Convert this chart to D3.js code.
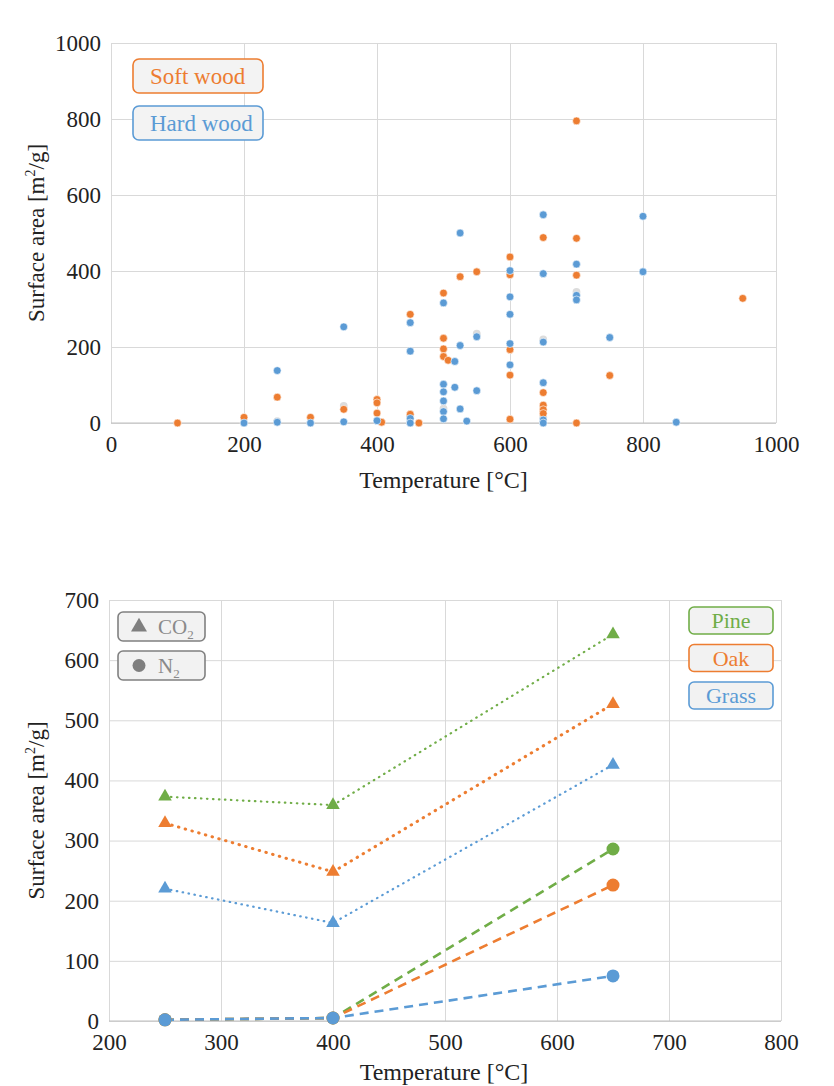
<!DOCTYPE html>
<html>
<head>
<meta charset="utf-8">
<script src="https://cdn.jsdelivr.net/npm/d3@7"></script>
<style>
  html, body { margin: 0; padding: 0; background: #fff; }
  svg { display: block; }
  text { font-family: "Liberation Serif", "Times New Roman", serif; }
</style>
</head>
<body>
<svg id="chart" width="834" height="1086"></svg>
<script>
// ---------- Top chart data ----------
const softwoodTemp = [100,200,250,300,350,400,400,400,407,450,450,463,500,500,500,500,507,525,550,600,600,600,600,600,650,650,650,650,650,700,700,700,700,750,950];
const softwoodArea = [0,15,68,15,36,62,53,26,2,286,23,0,342,223,195,175,165,385,398,437,390,193,126,10,488,80,47,35,25,795,486,389,0,125,328];
const hardwoodTemp = [200,250,250,300,350,350,400,450,450,450,450,500,500,500,500,500,500,517,517,525,525,525,535,550,550,600,600,600,600,600,650,650,650,650,650,650,700,700,700,750,800,800,850];
const hardwoodArea = [0,138,2,0,253,3,6,264,189,12,0,316,102,82,58,30,11,162,94,500,204,37,5,227,85,401,332,286,209,153,548,393,213,106,8,0,418,336,324,225,544,398,2];
const faintTemp = [250,350,450,500,550,600,650,650,700];
const faintArea = [5,45,18,38,235,395,220,15,345];
const topXTicks = [0,200,400,600,800,1000];
const topYTicks = [0,200,400,600,800,1000];
const topLegend = ["Soft wood","Hard wood"];

// ---------- Bottom chart data ----------
const tempsB = [250,400,650];
const species = ["Pine","Oak","Grass"];
const co2Pine = [373,359,643];
const co2Oak = [329,248,527];
const co2Grass = [220,163,426];
const n2Pine = [2,5,286];
const n2Oak = [2,5,226];
const n2Grass = [2,5,75];
const botXTicks = [200,300,400,500,600,700,800];
const botYTicks = [0,100,200,300,400,500,600,700];

const GREEN = "#70AD47", ORANGE = "#ED7D31", BLUE = "#5B9BD5", GRID = "#d9d9d9";
const SERIF = '"Liberation Serif", "Times New Roman", serif';
const svg = d3.select("#chart");

function gridAxes(g, x, y, xt, yt, W, H) {
  g.append("g").attr("transform", `translate(0,${H})`)
    .call(d3.axisBottom(x).tickValues(xt).tickSize(-H).tickFormat(""))
    .call(a => a.select(".domain").remove())
    .call(a => a.selectAll("line").attr("stroke", GRID).attr("stroke-width", 1));
  g.append("g")
    .call(d3.axisLeft(y).tickValues(yt).tickSize(-W).tickFormat(""))
    .call(a => a.select(".domain").remove())
    .call(a => a.selectAll("line").attr("stroke", GRID).attr("stroke-width", 1));
  g.append("line").attr("x1", 0).attr("x2", W).attr("y1", H).attr("y2", H)
    .attr("stroke", "#bfbfbf").attr("stroke-width", 1.2);
  // tick labels
  g.append("g").attr("transform", `translate(0,${H})`)
    .call(d3.axisBottom(x).tickValues(xt).tickSize(0).tickPadding(0).tickFormat(d3.format("d")))
    .attr("font-family", SERIF).attr("font-size", 23)
    .call(a => a.select(".domain").remove())
    .call(a => a.selectAll("text").attr("fill", "#222").attr("dy", null).attr("y", 29));
  g.append("g")
    .call(d3.axisLeft(y).tickValues(yt).tickSize(0).tickPadding(10).tickFormat(d3.format("d")))
    .attr("font-family", SERIF).attr("font-size", 23)
    .call(a => a.select(".domain").remove())
    .call(a => a.selectAll("text").attr("fill", "#222"));
}

function yTitle(g, H, dx) {
  const t = g.append("text").attr("transform", `translate(${dx},${H/2}) rotate(-90)`)
    .attr("text-anchor", "middle").attr("font-size", 23).attr("fill", "#222");
  t.append("tspan").text("Surface  area  [m");
  t.append("tspan").attr("font-size", 14).attr("dy", -9).text("2");
  t.append("tspan").attr("dy", 9).text("/g]");
}

// ================= TOP CHART =================
{
  const L = 111, T = 43, W = 665, H = 380;
  const g = svg.append("g").attr("transform", `translate(${L},${T})`);
  const x = d3.scaleLinear().domain([0,1000]).range([0,W]);
  const y = d3.scaleLinear().domain([0,1000]).range([H,0]);
  gridAxes(g, x, y, topXTicks, topYTicks, W, H);

  const pts = (tA, sA) => tA.map((t,i) => ({t, s: sA[i]}));
  g.append("g").selectAll("circle").data(pts(faintTemp, faintArea)).join("circle")
    .attr("cx", d => x(d.t)).attr("cy", d => y(d.s)).attr("r", 3.9).attr("fill", "#dcdcdc");
  g.append("g").selectAll("circle").data(pts(softwoodTemp, softwoodArea)).join("circle")
    .attr("cx", d => x(d.t)).attr("cy", d => y(d.s)).attr("r", 3.9)
    .attr("fill", ORANGE).attr("stroke", "#fff").attr("stroke-width", 0.6);
  g.append("g").selectAll("circle").data(pts(hardwoodTemp, hardwoodArea)).join("circle")
    .attr("cx", d => x(d.t)).attr("cy", d => y(d.s)).attr("r", 3.9)
    .attr("fill", BLUE).attr("stroke", "#fff").attr("stroke-width", 0.6);

  // legend
  const lc = [ORANGE, BLUE];
  topLegend.forEach((name, i) => {
    const lg = svg.append("g").attr("transform", `translate(133,${59 + i*47})`);
    lg.append("rect").attr("width", 130).attr("height", 34).attr("rx", 6)
      .attr("fill", "#f3f3f3").attr("stroke", lc[i]).attr("stroke-width", 1.6);
    lg.append("text").attr("x", 17).attr("y", 25).attr("font-size", 23)
      .attr("fill", lc[i]).text(name);
  });

  svg.append("text").attr("x", L + W/2).attr("y", 488).attr("text-anchor", "middle")
    .attr("font-size", 24).attr("fill", "#222").text("Temperature  [°C]");
  yTitle(svg.append("g").attr("transform", `translate(0,${T})`), H, 44);
}

// ================= BOTTOM CHART =================
{
  const L = 109, T = 600, W = 672, H = 421;
  const g = svg.append("g").attr("transform", `translate(${L},${T})`);
  const x = d3.scaleLinear().domain([200,800]).range([0,W]);
  const y = d3.scaleLinear().domain([0,700]).range([H,0]);
  gridAxes(g, x, y, botXTicks, botYTicks, W, H);

  const colors = [GREEN, ORANGE, BLUE];
  const co2 = [co2Pine, co2Oak, co2Grass];
  const n2 = [n2Pine, n2Oak, n2Grass];
  const line = d3.line().x(d => x(d.t)).y(d => y(d.s));
  const toPts = arr => tempsB.map((t,i) => ({t, s: arr[i]}));

  species.forEach((sp, i) => {
    g.append("path").datum(toPts(co2[i])).attr("d", line).attr("fill", "none")
      .attr("stroke", colors[i]).attr("stroke-width", i === 1 ? 3 : 2.2)
      .attr("stroke-linecap", "round")
      .attr("stroke-dasharray", i === 1 ? "0.5,6.5" : "0.5,5.5");
  });
  species.forEach((sp, i) => {
    g.append("path").datum(toPts(n2[i])).attr("d", line).attr("fill", "none")
      .attr("stroke", colors[i]).attr("stroke-width", 2.6)
      .attr("stroke-dasharray", "9,6");
  });
  const tri = d3.symbol().type(d3.symbolTriangle).size(80);
  species.forEach((sp, i) => {
    g.append("g").selectAll("path").data(toPts(co2[i])).join("path")
      .attr("d", tri).attr("transform", d => `translate(${x(d.t)},${y(d.s)})`)
      .attr("fill", colors[i]);
    g.append("g").selectAll("circle").data(toPts(n2[i])).join("circle")
      .attr("cx", d => x(d.t)).attr("cy", d => y(d.s)).attr("r", 6.5).attr("fill", colors[i]);
  });

  // gas legend
  const gl = [["CO","2"],["N","2"]];
  gl.forEach((lab, i) => {
    const lg = svg.append("g").attr("transform", `translate(118,${612 + i*39})`);
    lg.append("rect").attr("width", 87).attr("height", 29).attr("rx", 5)
      .attr("fill", "#f2f2f2").attr("stroke", "#808080").attr("stroke-width", 1.6);
    if (i === 0) {
      lg.append("path").attr("d", d3.symbol().type(d3.symbolTriangle).size(110))
        .attr("transform", "translate(21,15)").attr("fill", "#7f7f7f");
    } else {
      lg.append("circle").attr("cx", 21).attr("cy", 14.5).attr("r", 6.5).attr("fill", "#7f7f7f");
    }
    const t = lg.append("text").attr("x", 40).attr("y", 22).attr("font-size", 21).attr("fill", "#8a8a8a");
    t.append("tspan").text(lab[0]);
    t.append("tspan").attr("font-size", 13).attr("dy", 5).text(lab[1]);
  });

  // species legend
  species.forEach((sp, i) => {
    const lg = svg.append("g").attr("transform", `translate(689,${607 + i*37.5})`);
    lg.append("rect").attr("width", 84).attr("height", 27).attr("rx", 5)
      .attr("fill", "#f2f2f2").attr("stroke", colors[i]).attr("stroke-width", 1.6);
    lg.append("text").attr("x", 42).attr("y", 21).attr("text-anchor", "middle")
      .attr("font-size", 22).attr("fill", colors[i]).text(sp);
  });

  svg.append("text").attr("x", L + W/2 - 1).attr("y", 1080).attr("text-anchor", "middle")
    .attr("font-size", 24).attr("fill", "#222").text("Temperature  [°C]");
  yTitle(svg.append("g").attr("transform", `translate(0,${T})`), H, 44);
}
</script>
</body>
</html>
